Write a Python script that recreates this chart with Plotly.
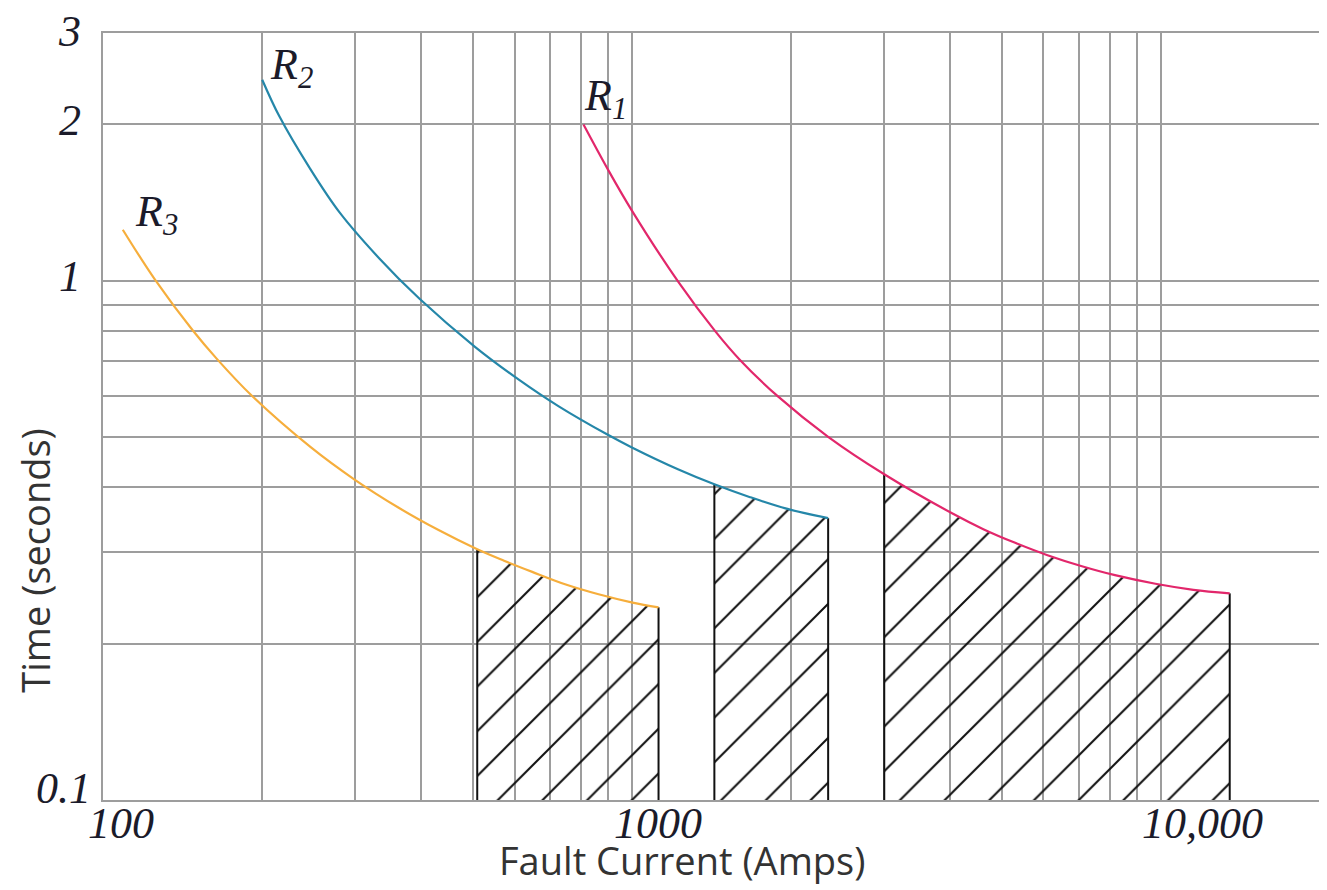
import math
import plotly.graph_objects as go

# ---------------- data ----------------
# relay time-current curves: fault current (A) -> operating time (s)
r1_current = [810, 904, 1000, 1225, 1437, 1601, 1891, 2350, 3000, 4022, 4618,
              5305, 6107, 7068, 8192, 9768, 11527, 13500]
r1_time = [2.0, 1.628, 1.365, 0.994, 0.800, 0.704, 0.598, 0.5006, 0.424, 0.357,
           0.3324, 0.3128, 0.2961, 0.2823, 0.271, 0.2609, 0.254, 0.250]

r2_current = [200, 215.5, 245.5, 279.6, 332.7, 396.7, 504.3, 611.2, 727.3, 900.7,
              1000, 1225, 1432, 1673, 1961, 2350]
r2_time = [2.439, 2.073, 1.653, 1.357, 1.105, 0.923, 0.747, 0.645, 0.573, 0.505,
           0.4775, 0.433, 0.4055, 0.383, 0.364, 0.349]

r3_current = [109, 125.5, 148, 164, 191, 247, 298, 363, 431, 510, 573, 648, 750,
              865, 1003, 1123]
r3_time = [1.254, 1.004, 0.801, 0.708, 0.601, 0.478, 0.415, 0.365, 0.331, 0.304,
           0.289, 0.275, 0.260, 0.249, 0.240, 0.235]

curve_names = ["R<sub>1</sub>", "R<sub>2</sub>", "R<sub>3</sub>"]

# hatched bands (start current, end current) under each curve
r1_band = [3000, 13500]
r2_band = [1432, 2350]
r3_band = [510, 1123]

x_tick_vals = [100, 1000, 10000]
x_tick_text = ["100", "1000", "10,000"]
y_tick_vals = [0.1, 1, 2, 3]
y_tick_text = ["0.1", "1", "2", "3"]

x_title = "Fault Current (Amps)"
y_title = "Time (seconds)"

# ---------------- styling ----------------
X_MIN, X_MAX = 100, 20000
Y_MIN, Y_MAX = 0.1, 3
GRID = "#9d9d9d"
COLORS = ["#e2276b", "#2587a9", "#f6ae3c"]
HATCH = "#111111"
SERIF = "Liberation Serif"
SANS = "Open Sans"
TICK_COLOR = "#1b1b2a"

x_grid = [k * 10 ** d for d in (2, 3) for k in range(1, 10)] + [10000]
y_grid = [k / 10 for k in range(1, 10)] + [1, 2]

curves = [(r1_current, r1_time, r1_band),
          (r2_current, r2_time, r2_band),
          (r3_current, r3_time, r3_band)]

fig = go.Figure()

# hatched areas
for xs, ys, band in curves:
    a, b = band
    px = [x for x in xs if a <= x <= b]
    py = [y for x, y in zip(xs, ys) if a <= x <= b]
    fig.add_trace(go.Scatter(
        x=px + [b, a], y=py + [Y_MIN, Y_MIN],
        mode="lines", fill="toself", line=dict(width=0, color="rgba(0,0,0,0)"),
        fillcolor="rgba(255,255,255,0)",
        fillpattern=dict(shape="/", size=31.6, solidity=0.065,
                         fgcolor=HATCH, fgopacity=1, bgcolor="rgba(0,0,0,0)"),
        hoverinfo="skip", showlegend=False))
    fig.add_trace(go.Scatter(
        x=[a, a, None, b, b], y=[Y_MIN, py[0], None, Y_MIN, py[-1]],
        mode="lines", line=dict(color=HATCH, width=2),
        hoverinfo="skip", showlegend=False))

# curves
for (xs, ys, band), col, name in zip(curves, COLORS, curve_names):
    fig.add_trace(go.Scatter(x=xs, y=ys, mode="lines", name=name,
                             line=dict(color=col, width=2.2, shape="spline"),
                             showlegend=False))

annotations = []

# curve labels (placed at each curve's first point)
label_shift = [(-1, -4), (6, -17), (10, -14)]
for (xs, ys, band), name, (dx, dy) in zip(curves, curve_names, label_shift):
    annotations.append(dict(x=math.log10(xs[0]), y=math.log10(ys[0]), xref="x", yref="y",
                            text="<i>" + name + "</i>", showarrow=False,
                            xanchor="left", yanchor="bottom", xshift=dx, yshift=dy,
                            font=dict(family=SERIF, size=44, color=TICK_COLOR)))

# tick labels
def yfrac(v):
    lo, hi = math.log10(Y_MIN), math.log10(Y_MAX)
    return min(1.0, max(0.0, (math.log10(v) - lo) / (hi - lo)))

x_label_shift = [18, 26, 42]
for v, t, dx in zip(x_tick_vals, x_tick_text, x_label_shift):
    annotations.append(dict(x=math.log10(v), y=0, xref="x", yref="paper",
                            text="<i>" + t + "</i>", showarrow=False, borderpad=0,
                            xanchor="center", yanchor="middle", xshift=dx, yshift=-23,
                            font=dict(family=SERIF, size=44, color=TICK_COLOR)))

y_label_shift = [(-11, 11.5), (-21, 4), (-21, 3.5), (-21, 2)]
for v, t, (dx, dy) in zip(y_tick_vals, y_tick_text, y_label_shift):
    annotations.append(dict(x=0, y=yfrac(v), xref="paper", yref="paper",
                            text="<i>" + t + "</i>", showarrow=False, borderpad=0,
                            xanchor="right", yanchor="middle", xshift=dx, yshift=dy,
                            font=dict(family=SERIF, size=44, color=TICK_COLOR)))

# axis titles
annotations.append(dict(x=0.4754, y=0, xref="paper", yref="paper", text=x_title,
                        showarrow=False, borderpad=0, xanchor="center", yanchor="middle",
                        yshift=-60, font=dict(family=SANS, size=38, color="#333333")))
annotations.append(dict(x=0, y=0.312, xref="paper", yref="paper", text=y_title,
                        showarrow=False, borderpad=0, xanchor="center", yanchor="middle",
                        xshift=-68, textangle=-90,
                        font=dict(family=SANS, size=38, color="#333333")))

axis_common = dict(type="log", showgrid=True, gridcolor=GRID, gridwidth=2,
                   showline=True, mirror=True, linecolor=GRID, linewidth=2,
                   zeroline=False, ticks="", showticklabels=False, fixedrange=True)

# the page body adds an 8px margin, so the figure is sized to end at the window edge
fig.update_layout(
    width=1319, height=882,
    margin=dict(l=95, r=5, t=25, b=90),
    paper_bgcolor="white", plot_bgcolor="white",
    showlegend=False,
    xaxis=dict(range=[math.log10(X_MIN), math.log10(X_MAX)], tickvals=x_grid, **axis_common),
    yaxis=dict(range=[math.log10(Y_MIN), math.log10(Y_MAX)], tickvals=y_grid, **axis_common),
    annotations=annotations,
)

fig.write_html("out.html")
